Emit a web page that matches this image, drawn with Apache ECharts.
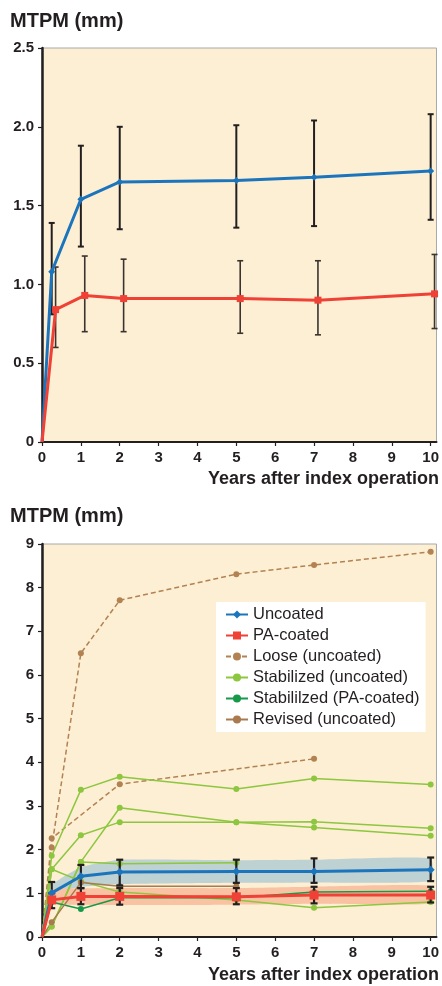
<!DOCTYPE html>
<html><head><meta charset="utf-8">
<script src="https://cdn.jsdelivr.net/npm/echarts@6/dist/echarts.min.js"></script>
<style>html,body{margin:0;padding:0;background:#fff}#c{width:442px;height:986px}</style>
</head><body><div id="c"></div>
<script>
// ---------- Top chart data ----------
const topBlueX = [0, 0.25, 1, 2, 5, 7, 10];
const topBlueY = [0, 1.08, 1.54, 1.65, 1.66, 1.68, 1.72];
const topBlueLow = [null, 0.81, 1.24, 1.35, 1.36, 1.37, 1.41];
const topBlueHigh = [null, 1.39, 1.88, 2.00, 2.01, 2.04, 2.08];
const topRedX = [0, 0.35, 1.1, 2.1, 5.1, 7.1, 10.1];
const topRedY = [0, 0.84, 0.93, 0.91, 0.91, 0.90, 0.94];
const topRedLow = [null, 0.60, 0.70, 0.70, 0.69, 0.68, 0.72];
const topRedHigh = [null, 1.11, 1.18, 1.16, 1.15, 1.15, 1.19];
const topYTicks = [0, 0.5, 1, 1.5, 2, 2.5];
const xTicks = [0, 1, 2, 3, 4, 5, 6, 7, 8, 9, 10];

// ---------- Bottom chart data ----------
const years = [0, 0.25, 1, 2, 5, 7, 10];
const uncoated = [0, 1.01, 1.39, 1.49, 1.50, 1.50, 1.54];
const uncoatedLow = [null, 0.78, 1.12, 1.18, 1.24, 1.24, 1.28];
const uncoatedHigh = [null, 1.26, 1.65, 1.77, 1.77, 1.80, 1.82];
const paCoated = [0, 0.85, 0.93, 0.93, 0.92, 0.96, 0.96];
const paLow = [null, 0.66, 0.75, 0.74, 0.75, 0.77, 0.79];
const paHigh = [null, 1.00, 1.12, 1.12, 1.12, 1.15, 1.15];
const loose1 = [0, 2.05, 6.50, 7.71, 8.31, 8.52, 8.82];
const loose2 = [0, 2.26, null, 3.50, null, 4.08, null];
const stab1 = [0, 1.86, 3.37, 3.67, 3.39, 3.63, 3.49];
const stab2 = [0, 1.55, 2.33, 2.63, 2.63, 2.64, 2.49];
const stab3 = [0, 0.24, 1.72, 2.96, 2.63, 2.51, 2.32];
const stab4 = [0, 1.55, 1.28, 1.03, 0.85, 0.67, 0.80];
const stab5 = [0, 0.24, 1.72, 1.68, 1.70, null, null];
const stabPA = [0, 0.80, 0.64, 0.90, 0.90, 1.03, 1.05];
const revised = [0, 0.34, 1.25, 1.16, 1.16, null, null];
const bandX = [0.25, 1, 2, 5, 7, 10];
const blueBandUpper = [1.20, 1.60, 1.77, 1.76, 1.77, 1.80];
const blueBandLower = [1.00, 1.15, 1.21, 1.24, 1.25, 1.28];
const redBandUpper = [1.10, 1.11, 1.12, 1.12, 1.15, 1.17];
const redBandLower = [0.76, 0.74, 0.73, 0.74, 0.76, 0.77];
const bottomYTicks = [0, 1, 2, 3, 4, 5, 6, 7, 8, 9];

const legendNames = ['Uncoated', 'PA-coated', 'Loose (uncoated)', 'Stabilized (uncoated)', 'Stabililzed (PA-coated)', 'Revised (uncoated)'];

// ---------- helpers ----------
const FONT = 'Liberation Sans, Arial, Helvetica, sans-serif';
const TXT = '#231F20';
const C = {blue:'#1C75BC', red:'#EF4136', loose:'#B38253', revised:'#A87A4E', lgreen:'#8DC63F', dgreen:'#17994A'};

function pts(xs, ys) {
  const out = [];
  xs.forEach((x, i) => {
    if (ys[i] == null) return;
    const d = {value: [x, ys[i]]};
    if (x === 0) d.symbol = 'none';
    out.push(d);
  });
  return out;
}
function errData(xs, lo, hi) {
  const out = [];
  xs.forEach((x, i) => { if (lo[i] != null) out.push([x, lo[i], hi[i]]); });
  return out;
}
function errSeries(idx, data, cap, color, w) {
  return {
    type: 'custom', xAxisIndex: idx, yAxisIndex: idx, z: 3, silent: true,
    encode: {x: 0, y: [1, 2]}, data: data,
    renderItem: function (params, api) {
      const x = api.value(0);
      const a = api.coord([x, api.value(1)]);
      const b = api.coord([x, api.value(2)]);
      const st = {stroke: color, lineWidth: w};
      return {type: 'group', children: [
        {type: 'line', shape: {x1: a[0], y1: a[1], x2: b[0], y2: b[1]}, style: st},
        {type: 'line', shape: {x1: a[0] - cap, y1: a[1], x2: a[0] + cap, y2: a[1]}, style: st},
        {type: 'line', shape: {x1: b[0] - cap, y1: b[1], x2: b[0] + cap, y2: b[1]}, style: st}
      ]};
    }
  };
}
function bandSeries(xs, up, lo, color) {
  const data = xs.map((x, i) => [x, lo[i], up[i]]);
  return {
    type: 'custom', xAxisIndex: 1, yAxisIndex: 1, z: 1, silent: true,
    encode: {x: 0, y: [1, 2]}, data: data,
    renderItem: function (params, api) {
      if (params.dataIndex !== 0) return null;
      const poly = [];
      xs.forEach((x, i) => poly.push(api.coord([x, up[i]])));
      for (let i = xs.length - 1; i >= 0; i--) poly.push(api.coord([xs[i], lo[i]]));
      return {type: 'polygon', shape: {points: poly, smooth: 0.15}, style: {fill: color}};
    }
  };
}
function thin(name, ys, color, dashed) {
  return {
    name: name, type: 'line', xAxisIndex: 1, yAxisIndex: 1, z: 2,
    data: pts(years, ys), symbol: 'circle', symbolSize: 6,
    itemStyle: {color: color},
    lineStyle: {color: color, width: 1.5, type: dashed ? [5, 3] : 'solid'},
    emphasis: {disabled: true}
  };
}
function xAxisCfg(idx) {
  return {
    type: 'value', gridIndex: idx, min: 0, max: 10.15,
    axisLine: {show: true, onZero: false, lineStyle: {color: TXT, width: 2}},
    axisTick: {show: true, length: 4, customValues: xTicks, lineStyle: {color: TXT, width: 1.2}},
    axisLabel: {customValues: xTicks, margin: 8, fontSize: 15, fontWeight: 'bold', color: TXT, fontFamily: FONT},
    splitLine: {show: false}
  };
}
function yAxisCfg(idx, max, interval, fmt) {
  return {
    type: 'value', gridIndex: idx, min: 0, max: max, interval: interval,
    axisLine: {show: true, onZero: false, lineStyle: {color: TXT, width: 2.5}},
    axisTick: {show: true, length: 4, lineStyle: {color: TXT, width: 1.2}},
    axisLabel: {margin: 8, fontSize: 15, fontWeight: 'bold', color: TXT, fontFamily: FONT, formatter: fmt},
    splitLine: {show: false}
  };
}

const chart = echarts.init(document.getElementById('c'), null, {renderer: 'canvas'});
chart.setOption({
  animation: false,
  backgroundColor: '#ffffff',
  textStyle: {fontFamily: FONT},
  grid: [
    {left: 42, top: 48, width: 395, height: 394, show: true, backgroundColor: '#FDEFD3', borderColor: '#A7A9AC', borderWidth: 1},
    {left: 42, top: 544, width: 395, height: 393, show: true, backgroundColor: '#FDEFD3', borderColor: '#A7A9AC', borderWidth: 1}
  ],
  xAxis: [xAxisCfg(0), xAxisCfg(1)],
  yAxis: [
    yAxisCfg(0, 2.5, 0.5, v => v === 0 ? '0' : v.toFixed(1)),
    yAxisCfg(1, 9, 1, v => String(v))
  ],
  legend: {
    data: legendNames, orient: 'vertical', left: 216, top: 602,
    backgroundColor: '#ffffff', padding: [4, 6, 4, 9],
    itemWidth: 22, itemHeight: 10, itemGap: 4, itemTextGap: 8,
    selectedMode: false,
    textStyle: {fontSize: 16.5, lineHeight: 16, color: TXT, fontFamily: FONT}
  },
  graphic: [
    {type: 'text', left: 10, top: 11, style: {text: 'MTPM (mm)', font: 'bold 20px ' + FONT, fill: TXT}},
    {type: 'text', right: 3, top: 470, style: {text: 'Years after index operation', font: 'bold 18px ' + FONT, fill: TXT}},
    {type: 'text', left: 10, top: 506, style: {text: 'MTPM (mm)', font: 'bold 20px ' + FONT, fill: TXT}},
    {type: 'text', right: 3, top: 966, style: {text: 'Years after index operation', font: 'bold 18px ' + FONT, fill: TXT}}
  ],
  series: [
    // top chart
    errSeries(0, errData(topBlueX, topBlueLow, topBlueHigh), 3, TXT, 2),
    errSeries(0, errData(topRedX, topRedLow, topRedHigh), 3, '#3a3330', 1.6),
    {name: 'Uncoated', type: 'line', xAxisIndex: 0, yAxisIndex: 0, z: 4, data: pts(topBlueX, topBlueY),
     symbol: 'diamond', symbolSize: 7, itemStyle: {color: C.blue}, lineStyle: {color: C.blue, width: 3}, emphasis: {disabled: true}},
    {name: 'PA-coated', type: 'line', xAxisIndex: 0, yAxisIndex: 0, z: 4, data: pts(topRedX, topRedY),
     symbol: 'rect', symbolSize: 7, itemStyle: {color: C.red}, lineStyle: {color: C.red, width: 3}, emphasis: {disabled: true}},
    // bottom chart
    bandSeries(bandX, blueBandUpper, blueBandLower, '#BED1D3'),
    bandSeries(bandX, redBandUpper, redBandLower, '#F9C2A3'),
    thin('Loose (uncoated)', loose1, C.loose, true),
    thin('Loose (uncoated)', loose2, C.loose, true),
    thin('Stabilized (uncoated)', stab1, C.lgreen),
    thin('Stabilized (uncoated)', stab2, C.lgreen),
    thin('Stabilized (uncoated)', stab3, C.lgreen),
    thin('Stabilized (uncoated)', stab4, C.lgreen),
    thin('Stabilized (uncoated)', stab5, C.lgreen),
    thin('Stabililzed (PA-coated)', stabPA, C.dgreen),
    thin('Revised (uncoated)', revised, C.revised),
    errSeries(1, errData(years, uncoatedLow, uncoatedHigh), 3.5, TXT, 2.2),
    errSeries(1, errData(years, paLow, paHigh), 3.5, TXT, 2.2),
    {name: 'Uncoated', type: 'line', xAxisIndex: 1, yAxisIndex: 1, z: 4, data: pts(years, uncoated),
     symbol: 'diamond', symbolSize: 8, itemStyle: {color: C.blue}, lineStyle: {color: C.blue, width: 3}, emphasis: {disabled: true}},
    {name: 'PA-coated', type: 'line', xAxisIndex: 1, yAxisIndex: 1, z: 4, data: pts(years, paCoated),
     symbol: 'rect', symbolSize: 9, itemStyle: {color: C.red}, lineStyle: {color: C.red, width: 3}, emphasis: {disabled: true}}
  ]
});
</script></body></html>
